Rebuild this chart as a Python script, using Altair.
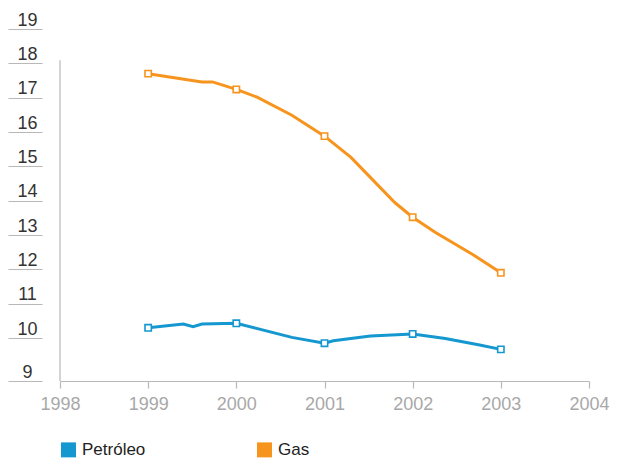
import altair as alt
import pandas as pd

series = ["Petróleo", "Gas"]
colors = ["#1597cf", "#f7941d"]

# line vertices (year, value)
pet_line_x = [1999.0, 1999.40, 1999.51, 1999.61, 2000.0, 2000.63, 2001.0, 2001.10, 2001.52, 2002.0, 2002.37, 2002.76, 2003.0]
pet_line_y = [10.30, 10.41, 10.33, 10.41, 10.43, 10.02, 9.85, 9.92, 10.06, 10.12, 9.99, 9.80, 9.67]
gas_line_x = [1999.0, 1999.61, 1999.73, 2000.0, 2000.23, 2000.63, 2001.0, 2001.30, 2001.80, 2002.0, 2002.25, 2002.69, 2003.0]
gas_line_y = [17.70, 17.46, 17.46, 17.24, 17.02, 16.49, 15.88, 15.26, 13.94, 13.52, 13.09, 12.42, 11.90]

# yearly markers
marker_years = [1999, 2000, 2001, 2002, 2003]
pet_marker = [10.30, 10.43, 9.85, 10.12, 9.67]
gas_marker = [17.70, 17.24, 15.88, 13.52, 11.90]

x_ticks = [1998, 1999, 2000, 2001, 2002, 2003, 2004]
y_ticks = [8.75, 10, 11, 12, 13, 14, 15, 16, 17, 18, 19]
y_min, y_max = 8.75, 19
axis_top = 18.09

FONT = "Liberation Sans"
GRAY = "#b8b8b8"

rows = []
for name, xs, ys in [("Petróleo", pet_line_x, pet_line_y), ("Gas", gas_line_x, gas_line_y)]:
    for i, (x, y) in enumerate(zip(xs, ys)):
        rows.append({"serie": name, "year": x, "value": y, "order": i})
line_df = pd.DataFrame(rows)

mrows = []
for name, ys in [("Petróleo", pet_marker), ("Gas", gas_marker)]:
    for x, y in zip(marker_years, ys):
        mrows.append({"serie": name, "year": x, "value": y})
marker_df = pd.DataFrame(mrows)

x_scale = alt.Scale(domain=[1998, 2004], nice=False, zero=False)
y_scale = alt.Scale(domain=[y_min, y_max], nice=False, zero=False)

x_axis = alt.Axis(
    values=x_ticks, tickCount=30, format="d", title=None, grid=False,
    domainColor=GRAY, tickColor=GRAY, tickSize=7, domainWidth=1.2, tickWidth=1.2,
    labelColor="#a8a8a8", labelFontSize=18, labelFont=FONT, labelPadding=7,
    labelFlush=False, labelOverlap=False,
)
y_axis = alt.Axis(
    values=y_ticks, tickCount=30, labelExpr="format(round(datum.value), 'd')", title=None, grid=False,
    domain=False, offset=18, tickSize=34, tickColor=GRAY, tickWidth=1.2,
    labelPadding=-19, labelAlign="center", labelBaseline="alphabetic", labelOffset=-4,
    labelFontSize=18, labelFont=FONT, labelColor="#333333", labelOverlap=False,
)

lines = alt.Chart(line_df).mark_line(strokeWidth=3).encode(
    x=alt.X("year:Q", scale=x_scale, axis=x_axis),
    y=alt.Y("value:Q", scale=y_scale, axis=y_axis),
    color=alt.Color(
        "serie:N",
        scale=alt.Scale(domain=series, range=colors),
        legend=alt.Legend(
            title=None, orient="none", legendX=0, legendY=412, direction="horizontal",
            symbolType="square", symbolSize=56, symbolStrokeWidth=7.5,
            labelFontSize=17, labelFont=FONT, labelColor="#222222", labelOffset=5,
            columnPadding=99, padding=0,
        ),
    ),
    order="order:Q",
)

markers = alt.Chart(marker_df).mark_point(
    shape="square", filled=False, fill="white", fillOpacity=1, size=40, strokeWidth=1.6, opacity=1
).encode(
    x=alt.X("year:Q", scale=x_scale),
    y=alt.Y("value:Q", scale=y_scale),
    stroke=alt.Stroke("serie:N", scale=alt.Scale(domain=series, range=colors), legend=None),
)

vline = alt.Chart(pd.DataFrame({"x": [x_ticks[0]], "y": [axis_top], "y2": [y_min]})).mark_rule(
    color=GRAY, strokeWidth=1.2
).encode(
    x=alt.X("x:Q", scale=x_scale),
    y=alt.Y("y:Q", scale=y_scale),
    y2="y2:Q",
)

chart = alt.layer(vline, lines, markers).properties(
    width=529, height=352,
    background="white",
    autosize=alt.AutoSizeParams(type="none"),
    padding={"left": 52, "top": 21, "right": 21, "bottom": 78},
).configure_view(strokeWidth=0, stroke=None)

chart.save("out.html", embed_options={"renderer": "svg", "actions": False})
